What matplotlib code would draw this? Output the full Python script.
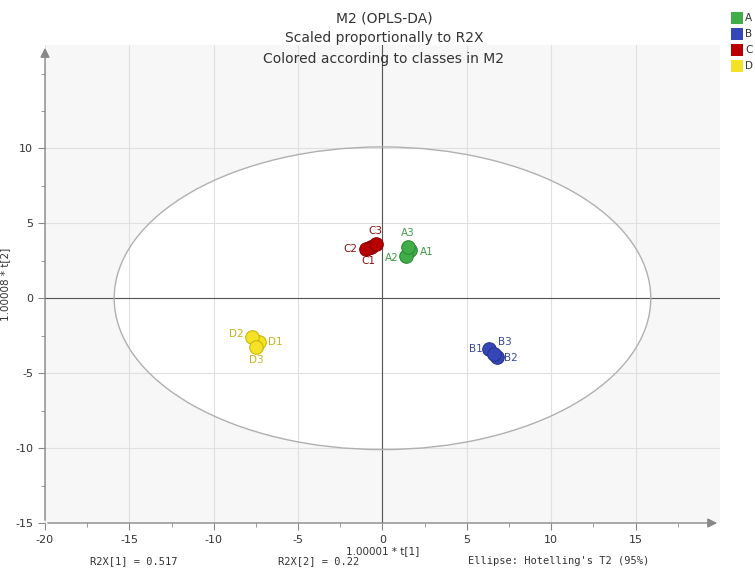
import numpy as np
import matplotlib.pyplot as plt
from matplotlib.patches import Ellipse, Rectangle

plt.rcParams['axes.unicode_minus'] = False

# score values t[1], t[2] per observation
classes = ['A', 'B', 'C', 'D']
class_colors = ['#3fae49', '#3546b8', '#b80000', '#f4e228']
edge_colors = ['#2e8a36', '#26338f', '#8c0000', '#c9b800']
label_colors = ['#3f9a45', '#3a4a9a', '#8a1010', '#c8b420']

obs_names = {
    'A': ['A1', 'A2', 'A3'],
    'B': ['B1', 'B2', 'B3'],
    'C': ['C1', 'C2', 'C3'],
    'D': ['D1', 'D2', 'D3'],
}
t1 = {
    'A': [1.65, 1.4, 1.5],
    'B': [6.3, 6.8, 6.6],
    'C': [-0.7, -1.0, -0.4],
    'D': [-7.3, -7.75, -7.5],
}
t2 = {
    'A': [3.2, 2.8, 3.45],
    'B': [-3.4, -3.9, -3.7],
    'C': [3.4, 3.3, 3.6],
    'D': [-2.9, -2.6, -3.25],
}
# label offsets in points
offsets = {
    'A1': (7, -1, 'left', 'center'), 'A2': (-5, -1, 'right', 'center'), 'A3': (0, 6, 'center', 'bottom'),
    'B1': (-4, 0, 'right', 'center'), 'B2': (5, -1, 'left', 'center'), 'B3': (3, 5, 'left', 'bottom'),
    'C1': (-2, -6, 'center', 'top'), 'C2': (-6, 0, 'right', 'center'), 'C3': (0, 6, 'center', 'bottom'),
    'D1': (6, 0, 'left', 'center'), 'D2': (-6, 2, 'right', 'center'), 'D3': (0, -6, 'center', 'top'),
}

ellipse_a = 15.9
ellipse_b = 10.1
r2x_1 = 0.517
r2x_2 = 0.22

fig = plt.figure(figsize=(7.55, 5.68), dpi=100)
ax = fig.add_axes([0.0596, 0.0792, 0.894, 0.8415])
ax.set_facecolor('#f7f7f7')
ax.set_xlim(-20, 20)
ax.set_ylim(-15, 16.9)

ax.set_xticks(np.arange(-20, 16, 5))
ax.set_yticks(np.arange(-15, 11, 5))
ax.set_xticks(np.arange(-20, 20, 2.5), minor=True)
ax.set_yticks(np.arange(-15, 16, 2.5), minor=True)
ax.grid(True, which='major', color='#e0e0e0', lw=0.8)
ax.set_axisbelow(True)
for s in ax.spines.values():
    s.set_visible(False)
ax.tick_params(which='both', colors='#888888', labelcolor='#333333', labelsize=8)
ax.tick_params(which='major', length=5)
ax.tick_params(which='minor', length=3)

# axes with arrow heads
ax.annotate('', xy=(1.0, 0), xytext=(0, 0), xycoords='axes fraction',
            arrowprops=dict(arrowstyle='-|>', color='#888888', lw=1, mutation_scale=14))
ax.annotate('', xy=(0, 1.0), xytext=(0, 0), xycoords='axes fraction',
            arrowprops=dict(arrowstyle='-|>', color='#888888', lw=1, mutation_scale=14))

ax.axhline(0, color='#555555', lw=0.8, zorder=1)
ax.axvline(0, color='#555555', lw=0.8, zorder=1)

# Hotelling's T2 ellipse: white inside, grid drawn over the fill
ax.add_patch(Ellipse((0, 0), 2 * ellipse_a, 2 * ellipse_b, facecolor='white',
                     edgecolor='none', zorder=0.2))
ax.add_patch(Ellipse((0, 0), 2 * ellipse_a, 2 * ellipse_b, fill=False,
                     edgecolor='#b0b0b0', lw=1, zorder=2))

for c, fc, ec, lc in zip(classes, class_colors, edge_colors, label_colors):
    ax.scatter(t1[c], t2[c], s=95, color=fc, edgecolor=ec, linewidth=0.8, zorder=3)
    for name, x, y in zip(obs_names[c], t1[c], t2[c]):
        dx, dy, ha, va = offsets[name]
        ax.annotate(name, (x, y), xytext=(dx, dy), textcoords='offset points',
                    ha=ha, va=va, fontsize=7.5, color=lc, zorder=4)

ax.set_xlabel('1.00001 * t[1]', fontsize=7.5, color='#333333', labelpad=1)
ax.set_ylabel('1.00008 * t[2]', fontsize=7.5, color='#333333', labelpad=4)

fig.text(0.5086, 0.968, 'M2 (OPLS-DA)', ha='center', va='center', fontsize=10, color='#333333')
fig.text(0.5086, 0.933, 'Scaled proportionally to R2X', ha='center', va='center', fontsize=10, color='#333333')
fig.text(0.5086, 0.897, 'Colored according to classes in M2', ha='center', va='center', fontsize=10, color='#333333')

# legend boxes at the right edge
for i, (c, fc) in enumerate(zip(classes, class_colors)):
    y = 568 - 18 - 16 * i
    fig.patches.append(Rectangle((731 / 755, (y - 6) / 568), 12 / 755, 12 / 568,
                                 transform=fig.transFigure, facecolor=fc, edgecolor='none'))
    fig.text(745 / 755, y / 568, c, ha='left', va='center', fontsize=7.5, color='#333333')

mono = dict(family='DejaVu Sans Mono', fontsize=7.5, color='#333333', va='center')
fig.text(90 / 755, 1 - 561 / 568, f'R2X[1] = {r2x_1}', **mono)
fig.text(278 / 755, 1 - 561 / 568, f'R2X[2] = {r2x_2}', **mono)
fig.text(468 / 755, 1 - 561 / 568, "Ellipse: Hotelling's T2 (95%)", **mono)

fig.savefig('out.png', dpi=100)
